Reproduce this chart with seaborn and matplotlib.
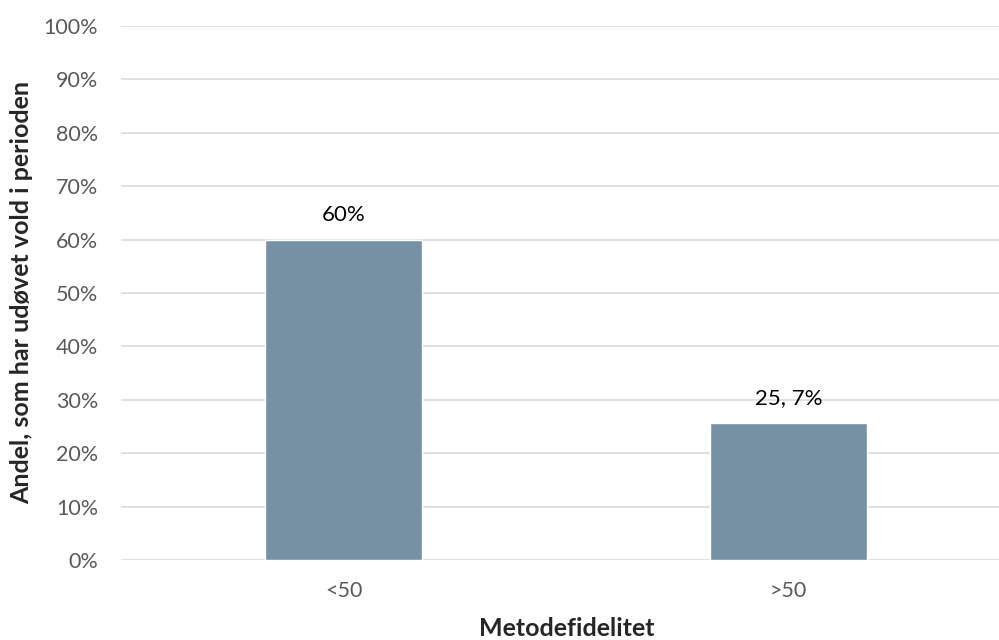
import pandas as pd
import seaborn as sns
import matplotlib.pyplot as plt
from matplotlib.ticker import PercentFormatter

# data
grupper = ['<50', '>50']
andel = [60, 25.7]
etiketter = ['60%', '25, 7%']

df = pd.DataFrame({'gruppe': grupper, 'andel': andel})

sns.set_style('white')
plt.rcParams['font.family'] = ['Lato', 'DejaVu Sans']

fig = plt.figure(figsize=(9.99, 6.4), dpi=100)
# plot area runs past the right edge, as in the original
ax = fig.add_axes([121 / 999, 80 / 640, 890 / 999, 534 / 640])

sns.barplot(data=df, x='gruppe', y='andel', color='#7591A3', width=0.353,
            saturation=1, ax=ax, zorder=3)

ax.set_xlim(-0.5, 1.5)
ax.set_ylim(0, 100)
ax.set_yticks(range(0, 101, 10))
ax.yaxis.set_major_formatter(PercentFormatter(decimals=0))
ax.grid(axis='y', color='#D9D9D9', linewidth=1.1, zorder=0)
for s in ax.spines.values():
    s.set_visible(False)
ax.tick_params(axis='both', length=0, labelsize=15.5, labelcolor='#595959')
ax.tick_params(axis='y', pad=16.5)
ax.tick_params(axis='x', pad=15)
ax.set_xlabel('')
ax.set_ylabel('')

# value labels above the bars
for i, (v, t) in enumerate(zip(andel, etiketter)):
    ax.annotate(t, (i, v), xytext=(0, 18), textcoords='offset points',
                ha='center', va='center', fontsize=16, color='black')

fig.text(567 / 999, 1 - 628 / 640, 'Metodefidelitet', ha='center', va='center',
         fontsize=18, fontweight='bold')
fig.text(22 / 999, 1 - 292 / 640, 'Andel, som har udøvet vold i perioden',
         ha='center', va='center', rotation=90, fontsize=18, fontweight='bold')

fig.savefig('out.png', dpi=100)
